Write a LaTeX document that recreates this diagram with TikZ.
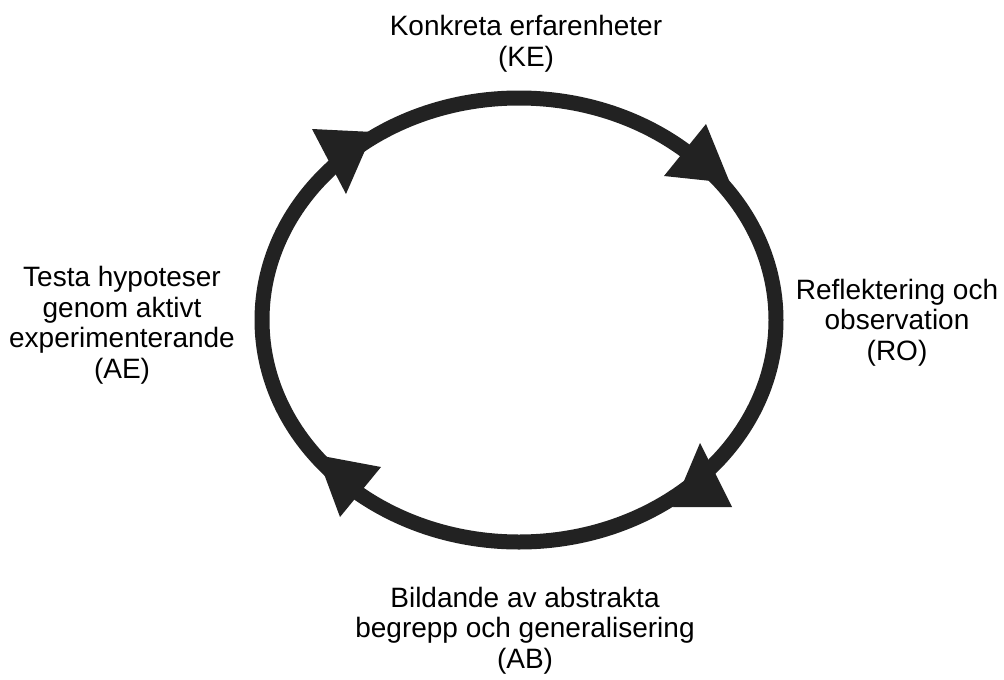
\documentclass[tikz,border=0pt]{standalone}
\usepackage{fontspec}
\setmainfont{Liberation Sans}
\begin{document}
\begin{tikzpicture}[x=1pt,y=-1pt,
  cyc/.style={draw=ink, line width=15pt},
  tip/.style={fill=ink, draw=none},
  lbl/.style={align=center, inner sep=0pt, anchor=base, text=black,
    font=\fontsize{28}{30.5}\selectfont}]
\definecolor{ink}{HTML}{222222}
\useasboundingbox[fill=white] (0,0) rectangle (1004,680);
\draw[cyc] (519,320) ellipse [x radius=257, y radius=222];
\fill[tip] (373,132) -- (312,129) -- (346,194) -- cycle;
\fill[tip] (730,183) -- (706,124) -- (664,176) -- cycle;
\fill[tip] (673,507) -- (700,443) -- (732,507) -- cycle;
\fill[tip] (317,455) -- (381,467) -- (340,517) -- cycle;
\node[lbl] (ke) at (526,66) {Konkreta erfarenheter\\(KE)};
\node[lbl] (ro) at (897,360) {Reflektering och\\observation\\(RO)};
\node[lbl] (ab) at (525,668) {Bildande av abstrakta\\begrepp och generalisering\\(AB)};
\node[lbl] (ae) at (122,378) {Testa hypoteser\\genom aktivt\\experimenterande\\(AE)};
\end{tikzpicture}
\end{document}
